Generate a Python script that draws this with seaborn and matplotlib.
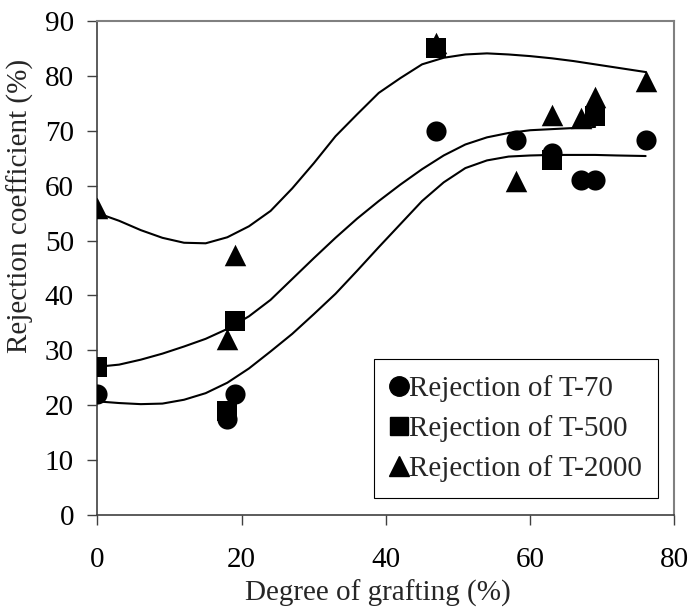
import pandas as pd
import seaborn as sns
import matplotlib
matplotlib.use('Agg')
import matplotlib.pyplot as plt

sns.set_style('ticks')
plt.rcParams['font.family'] = ['Liberation Serif', 'DejaVu Serif']

x_t70 = [0, 18, 19, 47, 58, 63, 67, 69, 76]
y_t70 = [22, 17.5, 22, 70, 68.3, 66, 61, 61, 68.3]

x_t500 = [0, 18, 19, 47, 63, 69]
y_t500 = [27, 19, 35.3, 85, 64.6, 72.6]

x_t2000 = [0, 18, 19, 47, 58, 63, 67, 69, 76]
y_t2000 = [56, 32, 47.4, 86, 60.8, 72.9, 72.3, 76.2, 79.1]

# 趋势线（从图上逐点读出）
cx_t70 = [0, 3, 6, 9, 12, 15, 18, 21, 24, 27, 30, 33, 36, 39, 42, 45, 48, 51, 54, 57, 60, 63, 66, 69, 72, 76]
cy_t70 = [20.7, 20.4, 20.2, 20.3, 21.0, 22.2, 24.1, 26.7, 29.8, 33.0, 36.6, 40.3, 44.5, 48.8, 53.0, 57.2, 60.6, 63.2, 64.6, 65.3, 65.5, 65.6, 65.6, 65.6, 65.5, 65.4]

cx_t500 = [0, 3, 6, 9, 12, 15, 18, 21, 24, 27, 30, 33, 36, 39, 42, 45, 48, 51, 54, 57, 60, 63, 66, 69]
cy_t500 = [27.0, 27.4, 28.3, 29.4, 30.7, 32.1, 33.9, 36.2, 39.2, 43.0, 46.8, 50.5, 54.0, 57.2, 60.2, 63.0, 65.5, 67.5, 68.8, 69.6, 70.1, 70.3, 70.5, 70.7]

cx_t2000 = [0, 3, 6, 9, 12, 15, 18, 21, 24, 27, 30, 33, 36, 39, 42, 45, 48, 51, 54, 57, 60, 63, 66, 69, 72, 76]
cy_t2000 = [55.0, 53.6, 51.9, 50.5, 49.6, 49.5, 50.6, 52.6, 55.4, 59.5, 64.1, 69.0, 73.0, 76.9, 79.6, 82.1, 83.3, 83.9, 84.1, 83.9, 83.6, 83.2, 82.7, 82.1, 81.5, 80.7]

names = ['Rejection of T-70', 'Rejection of T-500', 'Rejection of T-2000']

fig = plt.figure(figsize=(6.9, 6.1), dpi=100)
ax = fig.add_axes([0.1413, 0.1557, 0.8362, 0.8099])

for cx, cy in [(cx_t70, cy_t70), (cx_t500, cy_t500), (cx_t2000, cy_t2000)]:
    sns.lineplot(x=cx, y=cy, color='black', linewidth=1.5, estimator=None, sort=False, ax=ax)

pts = [(x_t2000, y_t2000, '^', 240), (x_t500, y_t500, 's', 200), (x_t70, y_t70, 'o', 210)]
for xs, ys, m, s in pts:
    sns.scatterplot(x=xs, y=ys, marker=m, s=s, color='black', linewidth=0, ax=ax, zorder=3)

ax.set_xlim(0, 80)
ax.set_ylim(0, 90)
ax.set_xticks(range(0, 81, 20))
ax.set_yticks(range(0, 91, 10))
ax.tick_params(direction='out', length=7, width=1, colors='#404040', labelcolor='black', labelsize=21)
ax.tick_params(axis='x', pad=16)
ax.tick_params(axis='y', pad=10)
ax.set_xlabel('Degree of grafting (%)', fontsize=21, va='top')
ax.set_ylabel('Rejection coefficient (%)', fontsize=21)
ax.xaxis.set_label_coords(0.486, -0.13)
ax.yaxis.set_label_coords(-0.11, 0.625)

for side in ['left', 'bottom']:
    ax.spines[side].set_color('#404040')
    ax.spines[side].set_linewidth(1.2)
for side in ['top', 'right']:
    ax.spines[side].set_visible(True)
    ax.spines[side].set_color('#808080')
    ax.spines[side].set_linewidth(1.5)

handles = [plt.Line2D([], [], marker=m, color='black', linestyle='none', markersize=ms)
           for m, ms in [('o', 14), ('s', 13), ('^', 15)]]
leg = ax.legend(handles, names, loc='lower right',
                bbox_to_anchor=(0.9714, 0.0344), fontsize=21, frameon=True, fancybox=False,
                edgecolor='black', framealpha=1, handlelength=0.6, handletextpad=0.05,
                borderpad=0.55, labelspacing=0.45, borderaxespad=0)
leg.get_frame().set_linewidth(0.8)

plt.savefig('out.png', dpi=100)
